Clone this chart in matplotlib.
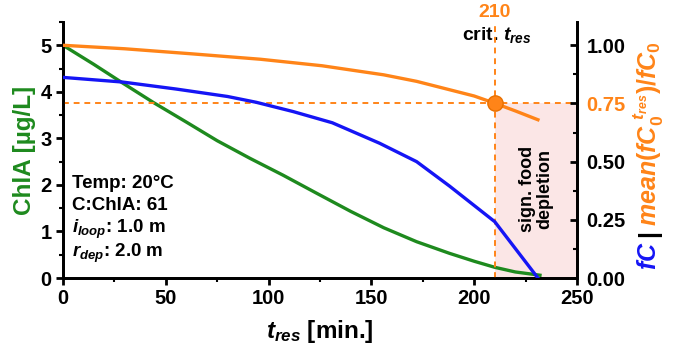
import matplotlib
matplotlib.use("Agg")
import matplotlib.pyplot as plt
from matplotlib.ticker import MultipleLocator, FormatStrFormatter

plt.rcParams['font.family'] = ['Liberation Sans', 'DejaVu Sans']
plt.rcParams['font.weight'] = 'bold'
plt.rcParams['mathtext.fontset'] = 'custom'
plt.rcParams['mathtext.rm'] = 'Liberation Sans:bold'
plt.rcParams['mathtext.it'] = 'Liberation Sans:bold:italic'
plt.rcParams['mathtext.bf'] = 'Liberation Sans:bold'

# ---- data ----
t_chla = [0, 15, 29, 44, 60, 75, 91, 107, 123, 140, 156, 172, 188, 200, 210, 220, 232]
chla = [5.0, 4.59, 4.19, 3.77, 3.35, 2.95, 2.57, 2.21, 1.83, 1.43, 1.08, 0.78, 0.53, 0.36, 0.23, 0.13, 0.06]

t_fc = [0, 29, 55, 80, 94, 112, 131, 154, 172, 188, 210, 231]
fc = [0.862, 0.842, 0.812, 0.78, 0.755, 0.715, 0.667, 0.579, 0.50, 0.395, 0.242, 0.0]

t_mean = [0, 30, 63, 96, 126, 156, 172, 188, 200, 210, 220, 231]
mean_fc = [1.0, 0.985, 0.963, 0.94, 0.912, 0.873, 0.845, 0.809, 0.782, 0.751, 0.718, 0.68]

crit_t = 210
crit_val = 0.75

C_GREEN = '#1e8a1e'
C_BLUE = '#1515f5'
C_ORANGE = '#ff8418'
C_PINK = '#fbe6e6'

fig = plt.figure(figsize=(6.75, 3.52), dpi=100)
ax = fig.add_axes([0.0933, 0.2102, 0.7615, 0.7273])
ax2 = ax.twinx()

ax.set_xlim(0, 250)
ax.set_ylim(0, 5.5)
ax2.set_ylim(0, 1.1)
scale = 5.5 / 1.1

# shaded depletion region (on left axes, beneath all lines)
ax.fill_between([crit_t, 250], 0, crit_val * scale, color=C_PINK, lw=0, zorder=0)

# dashed guide lines
ax2.axhline(crit_val, color=C_ORANGE, lw=1.4, ls=(0, (3, 2.5)), zorder=1)
ax2.axvline(crit_t, color=C_ORANGE, lw=1.4, ls=(0, (3, 2.5)), zorder=1)

ax.plot(t_chla, chla, color=C_GREEN, lw=2.4, zorder=3, solid_joinstyle='round')
ax2.plot(t_fc, fc, color=C_BLUE, lw=2.4, zorder=3, solid_joinstyle='round')
ax2.plot(t_mean, mean_fc, color=C_ORANGE, lw=2.4, zorder=3, solid_joinstyle='round')
ax2.plot([crit_t], [crit_val], 'o', color=C_ORANGE, ms=11, mec='#e87000', mew=1, zorder=4)

# spines
for a in (ax, ax2):
    a.spines['top'].set_visible(False)
    for s in ('left', 'right', 'bottom'):
        a.spines[s].set_linewidth(2.0)

ax.xaxis.set_major_locator(MultipleLocator(50))
ax.xaxis.set_minor_locator(MultipleLocator(25))
ax.yaxis.set_major_locator(MultipleLocator(1))
ax.yaxis.set_minor_locator(MultipleLocator(0.5))
ax2.yaxis.set_major_locator(MultipleLocator(0.25))
ax2.yaxis.set_minor_locator(MultipleLocator(0.125))
ax2.yaxis.set_major_formatter(FormatStrFormatter('%.2f'))

ax.tick_params(axis='both', which='major', direction='out', length=5, width=2, labelsize=14.5, pad=3)
ax.tick_params(axis='both', which='minor', direction='out', length=3, width=1.5)
ax.tick_params(axis='y', which='major', pad=3)
ax2.tick_params(axis='y', which='major', direction='in', length=5, width=2, labelsize=14.5, pad=7)
ax2.tick_params(axis='y', which='minor', direction='in', length=3, width=1.5)

ax.set_ylabel('ChlA [µg/L]', color=C_GREEN, fontsize=17.5, fontweight='bold', labelpad=3)
ax.set_xlabel(r'$t_{res}$ [min.]', fontsize=17.5, fontweight='bold', labelpad=7)

fig.canvas.draw()
for lbl in ax2.get_yticklabels():
    if lbl.get_text() == '0.75':
        lbl.set_color(C_ORANGE)

# annotations
ax.text(crit_t, 5.7, '210', color=C_ORANGE, fontsize=14, ha='center', va='center', clip_on=False)
ax.text(crit_t + 1, 5.22, r'crit. $t_{res}$', color='black', fontsize=14, ha='center', va='center')
ax.text(230, 1.92, 'sign. food\ndepletion', rotation=90, fontsize=13, ha='center', va='center',
        linespacing=1.05)

info = ['Temp: 20°C', 'C:ChlA: 61', r'$i_{loop}$: 1.0 m', r'$r_{dep}$: 2.0 m']
ys = [2.03, 1.55, 1.05, 0.53]
for s, y in zip(info, ys):
    ax.text(4.5, y, s, fontsize=13.5, ha='left', va='center')

# multi-colored right y-label
fig.canvas.draw()
renderer = fig.canvas.get_renderer()
xpos = 649 / 675
ycur = 1 - 270 / 352
pieces = [(r'$fC$', C_BLUE), ('|', 'black'),
          (r'$mean(fC_0^{\ t_{res}})/fC_0$', C_ORANGE)]
for s, c in pieces:
    t = fig.text(xpos, ycur, s, color=c, fontsize=18, rotation=90, ha='center', va='bottom')
    bb = t.get_window_extent(renderer)
    ycur = ycur + bb.height / fig.bbox.height + 0.012

fig.savefig('out.png', dpi=100)
